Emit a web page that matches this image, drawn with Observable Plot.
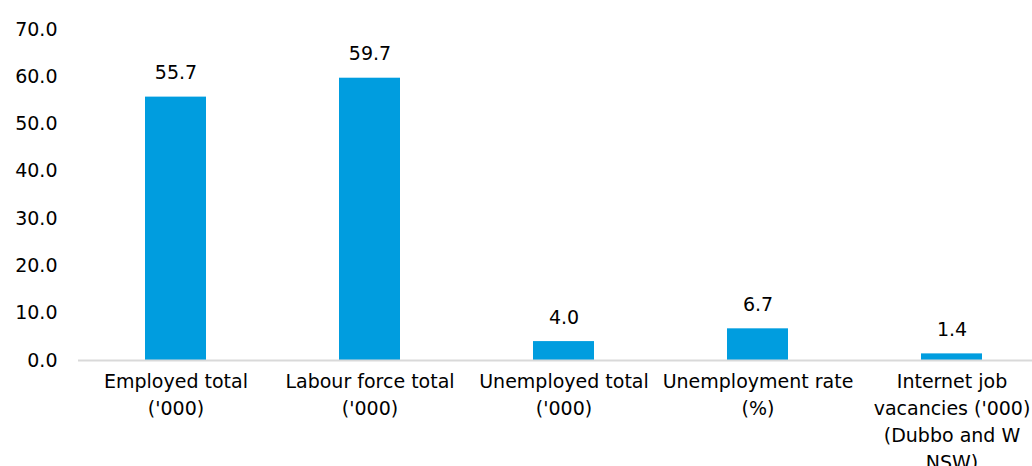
<!DOCTYPE html>
<html>
<head>
<meta charset="utf-8">
<script src="https://cdn.jsdelivr.net/npm/d3@7"></script>
<script src="https://cdn.jsdelivr.net/npm/@observablehq/plot@0.6"></script>
<style>
  html, body { margin: 0; padding: 0; background: #fff; }
  #chart { width: 1032px; height: 466px; overflow: hidden; }
  #chart svg { overflow: visible; }
</style>
</head>
<body>
<div id="chart"></div>
<script>
const categories = [
  "Employed total ('000)",
  "Labour force total ('000)",
  "Unemployed total ('000)",
  "Unemployment rate (%)",
  "Internet job vacancies ('000) (Dubbo and W NSW)"
];
const values = [55.7, 59.7, 4.0, 6.7, 1.4];
const tickLabels = [
  "Employed total\n('000)",
  "Labour force total\n('000)",
  "Unemployed total\n('000)",
  "Unemployment rate\n(%)",
  "Internet job\nvacancies ('000)\n(Dubbo and W\nNSW)"
];
const yTicks = [0, 10, 20, 30, 40, 50, 60, 70];

const data = categories.map((c, i) => ({category: c, value: values[i], label: tickLabels[i]}));
const labelOf = new Map(data.map(d => [d.category, d.label]));

const chart = Plot.plot({
  width: 1032,
  height: 466,
  marginLeft: 78,
  marginRight: -17,
  marginTop: 29,
  marginBottom: 106,
  style: {fontFamily: "'DejaVu Sans', sans-serif", fontSize: "19px", color: "#000", background: "#fff"},
  x: {domain: categories, paddingInner: 0.686, paddingOuter: 0.343, align: 0.5},
  y: {domain: [0, 70]},
  marks: [
    Plot.barY(data, {x: "category", y: "value", fill: "#009ddf"}),
    Plot.ruleY([0], {stroke: "#d9d9d9", strokeWidth: 2}),
    Plot.text(data, {x: "category", y: "value", text: d => d3.format(".1f")(d.value), dy: -24, fontSize: 19, fill: "#000"}),
    Plot.axisY({ticks: yTicks, tickFormat: d3.format(".1f"), tickSize: 0, tickPadding: 21, fontSize: 19, fill: "#000", label: null}),
    Plot.axisX({tickSize: 0, tickPadding: 8, fontSize: 19, fill: "#000", lineHeight: 1.42, label: null, tickFormat: d => labelOf.get(d)})
  ]
});
document.getElementById("chart").appendChild(chart);
</script>
</body>
</html>
